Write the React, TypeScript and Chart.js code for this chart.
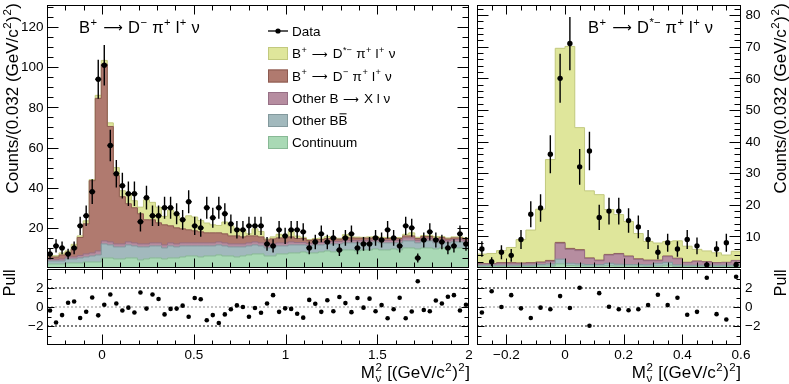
import React, { useEffect, useRef } from "react";
import { Chart, registerables } from "chart.js";
Chart.register(...registerables);

const W = 789;
const H = 384;
const FONT = '"Liberation Sans", Arial, Helvetica, sans-serif';
const SYMFONT = '"DejaVu Sans", sans-serif';

// ---------------- Left panel: B+ -> D- pi+ l+ nu (70 bins, -0.3 .. 2.0) ----------------
const leftRange = [-0.3, 2.0];
const leftData = [
  7, 11, 10, 7, 10, 21, 26, 38, 94, 101,
  61, 47, 41, 37, 37, 23, 35, 26, 26, 30,
  30, 27, 24, 33, 21, 20, 30, 25, 30, 27,
  22, 19, 19, 21, 21, 21, 12, 11, 19, 16,
  19, 19, 18, 10, 13, 17, 13, 15, 9, 15,
  17, 10, 12, 12, 15, 14, 19, 15, 11, 21,
  20, 5, 14, 18, 14, 13, 10, 11, 17, 12,
];
const leftContinuum = [
  2, 2, 2, 2.5, 2.5, 2.5, 3, 3, 3, 5,
  5, 4.5, 4.5, 5, 5, 4, 4.5, 5, 5, 4.5,
  5, 5, 5.5, 6, 6, 5.5, 6, 6, 6.5, 6,
  6, 5.5, 6, 6.5, 7, 7, 6, 6, 7, 7,
  7.5, 7.5, 8, 7.5, 7.5, 8, 8.5, 8, 8.5, 9,
  9, 8.5, 9, 9, 9.5, 9, 9, 9.5, 9, 10,
  10, 9.5, 10, 10, 9.5, 10, 9.5, 10, 10, 9.5,
];
const leftOtherBB = [
  1.5, 1.5, 1.5, 2, 2, 2.5, 2.5, 3, 3.5, 7,
  6.5, 6, 6, 6.5, 6, 6.5, 6, 6, 6, 5.5,
  6, 5.5, 5.5, 5, 5, 5.5, 5, 5, 5, 5,
  4.5, 5, 4.5, 4.5, 4.5, 4, 4, 4.5, 4, 4,
  4, 4, 3.5, 3.5, 4, 3.5, 3.5, 4, 3.5, 3.5,
  3.5, 4, 3.5, 3.5, 3.5, 3.5, 3.5, 3, 3.5, 3.5,
  3.5, 3, 3.5, 3.5, 3, 3, 3, 3, 3, 3,
];
const leftOtherB = [
  0.8, 0.8, 1, 1, 1, 1.2, 1.5, 1.5, 2, 1.5,
  1.5, 1.5, 1.5, 1.5, 1.5, 1.5, 1.5, 1.5, 1.5, 1.5,
  1.5, 1.5, 1.5, 1.5, 1.5, 1.5, 1.5, 1.5, 1.5, 1.5,
  1.5, 1.5, 1.5, 1.5, 1.5, 1.5, 1.5, 1.5, 1.5, 1.5,
  1.5, 1.2, 1.2, 1.2, 1.2, 1.2, 1.2, 1.2, 1.2, 1.2,
  1.2, 1.2, 1.2, 1.2, 1.2, 1.2, 1.2, 1.2, 1.2, 1.5,
  1.5, 1.2, 1.2, 1.2, 1.2, 1.2, 1.2, 1.2, 1.2, 1.2,
];
const leftDPi = [
  1.2, 1.2, 2, 2, 4, 9, 15, 36, 76, 88,
  57.5, 34, 23.5, 19, 17.5, 15, 12, 11.5, 10, 10,
  8.5, 8, 7, 6.5, 6, 5.5, 5, 5, 4.5, 4.5,
  4, 4, 3.5, 3.5, 3, 3, 2.5, 2.5, 2.5, 2.5,
  2.5, 2, 2, 1.5, 1.5, 1.5, 1.5, 1.5, 1.2, 1.5,
  1.3, 1.2, 1.2, 1.2, 1, 1, 1, 1, 1, 1,
  1, 1, 1, 1, 1, 1, 0.8, 0.8, 0.8, 0.8,
];
const leftDStar = [
  0.6, 0.6, 1, 1, 2.3, 0.8, 1.5, 0.5, 1.5, 1.9,
  1.8, 4, 3, 4.6, 3.5, 3.3, 10, 8.7, 7.8, 4.2,
  7.9, 6.1, 5.2, 7, 6.9, 5.6, 4.9, 4, 3.7, 5.9,
  5, 3.7, 3.5, 1, 3.5, 2.7, 0.5, 1, 1.8, 1,
  2.6, 1.2, 0.6, 0.5, 0.5, 0.7, 0.9, 0.5, 0.4, 1.4,
  0.5, 0.5, 0.4, 0.6, 0.5, 0.6, 0.5, 0.5, 0.5, 0.8,
  1.5, 0.6, 0.5, 0.6, 1, 0.5, 0.5, 0.5, 0.5, 0.5,
];
const leftPull = [
  -0.37, -1.63, -0.85, 0.44, 0.58, -1.15, -0.5, 1.0, -0.88, 0.24,
  1.32, 0.37, -0.37, -0.07, -0.58, 1.53, -0.17, 1.32, 0.85, -0.78,
  -0.2, -0.17, 0.14, -1.02, 0.95, 0.81, -1.39, -0.85, -1.69, -0.78,
  -0.24, 0.17, 0, -1.02, -0.1, -0.61, 0.37, 1.25, -0.51, -0.14,
  -0.2, -0.71, -1.12, 0.75, 0.34, -0.51, 0.71, -0.44, 1.05, 0.41,
  -0.54, 0.95, -0.07, 0.88, -0.44, 0.2, -1.19, -0.24, 0.98, -1.19,
  -0.47, 2.71, -0.31, -0.44, 0.68, 0.37, 1.08, 1.25, -0.37, 0.24,
];

// ---------------- Right panel: B+ -> D*- pi+ l+ nu (27 bins, -0.3 .. 0.6) ----------------
const rightRange = [-0.3, 0.6];
const rightData = [6, 2, 5, 4, 9, 17, 19, 36, 60, 71, 32, 37, 16, 18, 18, 15, 13, 9, 5, 8, 6, 9, 7, 1, 6, 8, 1];
const rightContinuum = [0.5, 0.5, 0.5, 0.5, 0.5, 0.5, 0.6, 0.6, 1.3, 0.8, 0.7, 0.6, 0.6, 0.7, 0.6, 0.6, 0.6, 0.5, 0.6, 0.9, 0.5, 0.5, 0.5, 0.5, 0.5, 0.5, 0.5];
const rightOtherBB = [0.4, 0.4, 0.4, 0.4, 0.4, 0.4, 0.5, 0.7, 1.5, 0.7, 0.6, 0.5, 0.5, 0.8, 0.6, 0.5, 0.5, 0.5, 0.9, 0.9, 0.5, 0.4, 0.4, 0.4, 0.4, 0.4, 0.4];
const rightOtherB = [0.4, 0.4, 0.6, 0.6, 0.5, 0.6, 0.6, 0.8, 5.0, 4.4, 4.2, 1.9, 1.2, 2.6, 3.2, 2.5, 1.6, 1.3, 0.8, 1.8, 1.9, 0.8, 1.2, 1.0, 0.7, 0.8, 1.4];
const rightDPi = [0.1, 0.1, 0.2, 0.2, 0.2, 0.2, 0.2, 0.3, 0.3, 0.3, 0.3, 0.2, 0.2, 0.2, 0.2, 0.2, 0.2, 0.2, 0.2, 0.2, 0.2, 0.1, 0.1, 0.1, 0.1, 0.1, 0.1];
const rightDStar = [3.0, 3.2, 3.8, 4.8, 7.4, 10.3, 16.7, 31.9, 61.4, 63.9, 38.6, 21.2, 20.7, 14.2, 12.3, 10.9, 8.0, 5.9, 5.4, 4.6, 5.5, 5.1, 3.7, 3.4, 3.1, 2.3, 2.9];
const rightPull = [-0.58, 1.66, 0, 1.25, -0.14, -1.15, -0.07, -0.24, 1.15, -0.1, 2.03, -1.97, 1.46, 0.03, -0.24, -0.34, -0.24, 0.2, 1.29, 0.2, 0.98, -0.81, -0.51, 3.08, -0.75, -1.32, 3.19];

// ---------------- Axis ticks / labels ----------------
const leftYTicks = [20, 40, 60, 80, 100, 120];
const rightYTicks = [10, 20, 30, 40, 50, 60, 70, 80];
const pullYTicks = [-2, 0, 2];
const pullYTickLabels = ["\u22122", "0", "2"];
const leftXTicks = [0, 0.5, 1, 1.5, 2];
const leftXTickLabels = ["0", "0.5", "1", "1.5", "2"];
const rightXTicks = [-0.2, 0, 0.2, 0.4, 0.6];
const rightXTickLabels = ["\u22120.2", "0", "0.2", "0.4", "0.6"];

const legendLabels = [
  "Data",
  "B^{+} #{\u27f6} D^{*\u2212} \u03c0^{+} l^{+} \u03bd",
  "B^{+} #{\u27f6} D^{\u2212} \u03c0^{+} l^{+} \u03bd",
  "Other B #{\u27f6} X l \u03bd",
  "Other B#bar{B}",
  "Continuum",
];

// styles (bottom -> top of stack)
const compFill = ["#a9d9b5", "#a2b9bd", "#b68da0", "#b07a6f", "#dfe69b"];
const compLine = ["#88b995", "#83999d", "#977086", "#8c5a50", "#c2c97e"];

// ---------------- rich text ----------------
type Seg = { t: string; k: "n" | "sup" | "sub" | "bar" | "sym" };
function parseMarkup(s: string): Seg[] {
  const out: Seg[] = [];
  let buf = "";
  let i = 0;
  const flush = () => {
    if (buf) {
      out.push({ t: buf, k: "n" });
      buf = "";
    }
  };
  while (i < s.length) {
    const c = s[i];
    if ((c === "^" || c === "_") && s[i + 1] === "{") {
      flush();
      const end = s.indexOf("}", i);
      out.push({ t: s.slice(i + 2, end), k: c === "^" ? "sup" : "sub" });
      i = end + 1;
    } else if (s.startsWith("#bar{", i)) {
      flush();
      const end = s.indexOf("}", i);
      out.push({ t: s.slice(i + 5, end), k: "bar" });
      i = end + 1;
    } else if (s.startsWith("#{", i)) {
      flush();
      const end = s.indexOf("}", i);
      out.push({ t: s.slice(i + 2, end), k: "sym" });
      i = end + 1;
    } else {
      buf += c;
      i++;
    }
  }
  flush();
  return out;
}

function drawRich(
  ctx: CanvasRenderingContext2D,
  markup: string,
  x: number,
  y: number,
  size: number,
  align: "left" | "right" | "center" = "left",
  rotate = false,
  color = "#000"
) {
  const segs = parseMarkup(markup);
  const small = size * 0.68;
  const items: { t: string; dx: number; dy: number; font: string; bar: boolean; w: number }[] = [];
  let cx = 0;
  for (let i = 0; i < segs.length; i++) {
    const s = segs[i];
    if (s.k === "n" || s.k === "bar") {
      const font = `${size}px ${FONT}`;
      ctx.font = font;
      const w = ctx.measureText(s.t).width;
      items.push({ t: s.t, dx: cx, dy: 0, font, bar: s.k === "bar", w });
      cx += w;
    } else if (s.k === "sym") {
      const font = `${size * 0.82}px ${SYMFONT}`;
      ctx.font = font;
      const w = ctx.measureText(s.t).width;
      items.push({ t: s.t, dx: cx + 1, dy: -size * 0.04, font, bar: false, w });
      cx += w + 2;
    } else {
      const font = `${small}px ${FONT}`;
      ctx.font = font;
      const w = ctx.measureText(s.t).width;
      const dy = s.k === "sup" ? -size * 0.4 : size * 0.22;
      items.push({ t: s.t, dx: cx + 0.5, dy, font, bar: false, w });
      const nx = segs[i + 1];
      if (nx && (nx.k === "sup" || nx.k === "sub") && nx.k !== s.k) {
        const w2 = ctx.measureText(nx.t).width;
        const dy2 = nx.k === "sup" ? -size * 0.4 : size * 0.22;
        items.push({ t: nx.t, dx: cx + 0.5, dy: dy2, font, bar: false, w: w2 });
        cx += Math.max(w, w2) + 1;
        i++;
      } else {
        cx += w + 1;
      }
    }
  }
  const total = cx;
  const start = align === "right" ? -total : align === "center" ? -total / 2 : 0;
  ctx.save();
  ctx.translate(x, y);
  if (rotate) ctx.rotate(-Math.PI / 2);
  ctx.fillStyle = color;
  ctx.strokeStyle = color;
  ctx.textBaseline = "alphabetic";
  ctx.textAlign = "left";
  for (const it of items) {
    ctx.font = it.font;
    ctx.fillText(it.t, start + it.dx, it.dy);
    if (it.bar) {
      ctx.lineWidth = 1;
      ctx.beginPath();
      ctx.moveTo(start + it.dx + 1, -size * 0.85);
      ctx.lineTo(start + it.dx + it.w - 1, -size * 0.85);
      ctx.stroke();
    }
  }
  ctx.restore();
}

// ---------------- helpers ----------------
function edgesFor(range: number[], n: number) {
  return Array.from({ length: n + 1 }, (_, i) => range[0] + ((range[1] - range[0]) * i) / n);
}
function stepRange(min: number, max: number, step: number) {
  const out: number[] = [];
  const k0 = Math.ceil(min / step - 1e-9);
  const k1 = Math.floor(max / step + 1e-9);
  for (let k = k0; k <= k1; k++) out.push(+(k * step).toFixed(6));
  return out;
}
function stepPoints(edges: number[], vals: number[]) {
  const pts = vals.map((v, i) => ({ x: edges[i], y: v }));
  pts.push({ x: edges[edges.length - 1], y: vals[vals.length - 1] });
  return pts;
}
function errorBarPoints(edges: number[], data: number[], horiz: boolean) {
  const pts: { x: number; y: number | null }[] = [];
  data.forEach((v, i) => {
    const xc = (edges[i] + edges[i + 1]) / 2;
    const e = Math.sqrt(v);
    pts.push({ x: xc, y: v - e }, { x: xc, y: v + e }, { x: xc, y: null });
    if (horiz) pts.push({ x: edges[i], y: v }, { x: edges[i + 1], y: v }, { x: xc, y: null });
  });
  return pts;
}

// ---------------- frame / ticks / texts plugin ----------------
type TextItem = { m: string; x: number; y: number; size: number; align?: "left" | "right" | "center"; rot?: boolean };
type FrameOpts = {
  xMajor: number[];
  xMinor: number[];
  yMajor: number[];
  yMinor: number[];
  xLen: number[];
  yLen: number[];
  yLabels?: { values: number[]; texts: string[]; side: "left" | "right"; x: number };
  xLabels?: { values: number[]; texts: string[]; y: number };
  texts?: TextItem[];
  legend?: boolean;
};

const rootFrame = {
  id: "rootFrame",
  afterDraw(chart: any, _args: any, opts: FrameOpts) {
    const { ctx, chartArea: a, scales } = chart;
    const xs = scales.x;
    const ys = scales.y;
    ctx.save();
    ctx.strokeStyle = "#000";
    ctx.lineWidth = 1;
    const L = Math.round(a.left) + 0.5;
    const R = Math.round(a.right) - 0.5;
    const T = Math.round(a.top) + 0.5;
    const B = Math.round(a.bottom) - 0.5;
    ctx.beginPath();
    const xt = (vals: number[], len: number) => {
      for (const v of vals) {
        const px = Math.round(xs.getPixelForValue(v)) + 0.5;
        if (px <= L + 1 || px >= R - 1) continue;
        ctx.moveTo(px, T);
        ctx.lineTo(px, T + len);
        ctx.moveTo(px, B);
        ctx.lineTo(px, B - len);
      }
    };
    const yt = (vals: number[], len: number) => {
      for (const v of vals) {
        const py = Math.round(ys.getPixelForValue(v)) + 0.5;
        if (py <= T + 1 || py >= B - 1) continue;
        ctx.moveTo(L, py);
        ctx.lineTo(L + len, py);
        ctx.moveTo(R, py);
        ctx.lineTo(R - len, py);
      }
    };
    xt(opts.xMinor, opts.xLen[1]);
    xt(opts.xMajor, opts.xLen[0]);
    yt(opts.yMinor, opts.yLen[1]);
    yt(opts.yMajor, opts.yLen[0]);
    ctx.stroke();
    ctx.strokeRect(L, T, R - L, B - T);

    ctx.fillStyle = "#000";
    ctx.font = `13.5px ${FONT}`;
    if (opts.yLabels) {
      const yl = opts.yLabels;
      ctx.textAlign = yl.side === "left" ? "right" : "left";
      ctx.textBaseline = "middle";
      yl.values.forEach((v, i) => ctx.fillText(yl.texts[i], yl.x, ys.getPixelForValue(v) + 0.5));
    }
    if (opts.xLabels) {
      const xl = opts.xLabels;
      ctx.textAlign = "center";
      ctx.textBaseline = "top";
      xl.values.forEach((v, i) => ctx.fillText(xl.texts[i], xs.getPixelForValue(v), xl.y));
    }
    for (const t of opts.texts || []) {
      drawRich(ctx, t.m, t.x, t.y, t.size, t.align || "left", !!t.rot);
    }
    if (opts.legend) {
      const rows = [31, 53.5, 76, 98.5, 120.5, 142.5];
      const sx = 268;
      const sw = 20;
      const sh = 13;
      ctx.strokeStyle = "#000";
      ctx.fillStyle = "#000";
      ctx.lineWidth = 1.3;
      ctx.beginPath();
      ctx.moveTo(sx, rows[0]);
      ctx.lineTo(sx + sw, rows[0]);
      ctx.stroke();
      ctx.beginPath();
      ctx.arc(sx + sw / 2, rows[0], 2.6, 0, Math.PI * 2);
      ctx.fill();
      const order = [4, 3, 2, 1, 0];
      for (let r = 1; r < rows.length; r++) {
        const c = order[r - 1];
        ctx.fillStyle = compFill[c];
        ctx.fillRect(sx, rows[r] - sh / 2, sw, sh);
        ctx.strokeStyle = compLine[c];
        ctx.lineWidth = 1;
        ctx.strokeRect(sx + 0.5, rows[r] - sh / 2 + 0.5, sw - 1, sh - 1);
      }
      for (let r = 0; r < rows.length; r++) {
        drawRich(ctx, legendLabels[r], 292, rows[r] + 4.8, 13.5, "left");
      }
    }
    ctx.restore();
  },
};

// ---------------- chart configs ----------------
function mainConfig(
  range: number[],
  yMax: number,
  data: number[],
  comps: number[][],
  pad: { left: number; right: number },
  horizErr: boolean,
  frame: FrameOpts
) {
  const n = data.length;
  const edges = edgesFor(range, n);
  const cum: number[][] = [];
  comps.forEach((c, k) => {
    cum.push(c.map((v, i) => (k === 0 ? v : cum[k - 1][i] + v)));
  });
  const histSets = cum.map((vals, k) => ({
    type: "line",
    data: stepPoints(edges, vals),
    stepped: "before",
    fill: "origin",
    backgroundColor: compFill[k],
    borderColor: compLine[k],
    borderWidth: 1,
    pointRadius: 0,
    order: 0,
  }));
  const centers = data.map((v, i) => ({ x: (edges[i] + edges[i + 1]) / 2, y: v }));
  return {
    type: "line",
    data: {
      datasets: [
        ...histSets,
        {
          type: "line",
          data: errorBarPoints(edges, data, horizErr),
          borderColor: "#000",
          borderWidth: 1.4,
          pointRadius: 0,
          spanGaps: false,
          fill: false,
          order: -1,
        },
        {
          type: "line",
          data: centers,
          showLine: false,
          pointRadius: 2.7,
          pointBorderWidth: 0,
          pointBackgroundColor: "#000",
          fill: false,
          order: -2,
        },
      ],
    },
    options: {
      responsive: false,
      animation: false,
      devicePixelRatio: 1,
      events: [],
      layout: { padding: { left: pad.left, right: pad.right, top: 5, bottom: H - 268 } },
      plugins: { legend: { display: false }, tooltip: { enabled: false }, rootFrame: frame },
      scales: {
        x: { type: "linear", min: range[0], max: range[1], display: false },
        y: { type: "linear", min: 0, max: yMax, display: false },
      },
    },
    plugins: [rootFrame],
  };
}

function pullConfig(range: number[], pulls: number[], pad: { left: number; right: number }, frame: FrameOpts) {
  const n = pulls.length;
  const edges = edgesFor(range, n);
  const pts = pulls.map((v, i) => ({ x: (edges[i] + edges[i + 1]) / 2, y: v }));
  const hline = (y: number, color: string) => ({
    type: "line",
    data: [
      { x: range[0], y },
      { x: range[1], y },
    ],
    borderColor: color,
    borderWidth: 1,
    borderDash: [2, 2],
    pointRadius: 0,
    fill: false,
    order: 1,
  });
  return {
    type: "line",
    data: {
      datasets: [
        hline(2, "#000"),
        hline(-2, "#000"),
        hline(0, "#8a8a8a"),
        {
          type: "line",
          data: pts,
          showLine: false,
          pointRadius: 2.3,
          pointBorderWidth: 0,
          pointBackgroundColor: "#000",
          fill: false,
          order: -1,
        },
      ],
    },
    options: {
      responsive: false,
      animation: false,
      devicePixelRatio: 1,
      events: [],
      layout: { padding: { left: pad.left, right: pad.right, top: 269, bottom: H - 345 } },
      plugins: { legend: { display: false }, tooltip: { enabled: false }, rootFrame: frame },
      scales: {
        x: { type: "linear", min: range[0], max: range[1], display: false },
        y: { type: "linear", min: -4, max: 4, display: false },
      },
    },
    plugins: [rootFrame],
  };
}

const countsTitle = "Counts/(0.032 (GeV/c^{2})^{2})";
const massTitle = "M_{\u03bd}^{2} [(GeV/c^{2})^{2}]";

function buildConfigs() {
  const leftPad = { left: 47, right: W - 469 };
  const rightPad = { left: 477, right: W - 741 };
  const leftMain = mainConfig(
    leftRange,
    131,
    leftData,
    [leftContinuum, leftOtherBB, leftOtherB, leftDPi, leftDStar],
    leftPad,
    true,
    {
      xMajor: stepRange(leftRange[0], leftRange[1], 0.5),
      xMinor: stepRange(leftRange[0], leftRange[1], 0.1),
      yMajor: stepRange(0, 131, 20),
      yMinor: stepRange(0, 131, 5),
      xLen: [9, 5],
      yLen: [11, 6],
      yLabels: { values: leftYTicks, texts: leftYTicks.map(String), side: "left", x: 43.5 },
      texts: [
        { m: "B^{+} #{\u27f6} D^{\u2212} \u03c0^{+} l^{+} \u03bd", x: 79, y: 33, size: 16.5 },
        { m: countsTitle, x: 18, y: 3, size: 17, align: "right", rot: true },
      ],
      legend: true,
    }
  );
  const leftPullCfg = pullConfig(leftRange, leftPull, leftPad, {
    xMajor: stepRange(leftRange[0], leftRange[1], 0.5),
    xMinor: stepRange(leftRange[0], leftRange[1], 0.1),
    yMajor: stepRange(-4, 4, 2),
    yMinor: stepRange(-4, 4, 1),
    xLen: [10, 4],
    yLen: [7, 4],
    yLabels: { values: pullYTicks, texts: pullYTickLabels, side: "left", x: 43.5 },
    xLabels: { values: leftXTicks, texts: leftXTickLabels, y: 349 },
    texts: [
      { m: "Pull", x: 15, y: 269.5, size: 16, align: "right", rot: true },
      { m: massTitle, x: 470, y: 378, size: 17, align: "right" },
    ],
  });
  const rightMain = mainConfig(
    rightRange,
    83.2,
    rightData,
    [rightContinuum, rightOtherBB, rightOtherB, rightDPi, rightDStar],
    rightPad,
    false,
    {
      xMajor: stepRange(rightRange[0], rightRange[1], 0.2),
      xMinor: stepRange(rightRange[0], rightRange[1], 0.05),
      yMajor: stepRange(0, 83.2, 10),
      yMinor: stepRange(0, 83.2, 2),
      xLen: [9, 5],
      yLen: [11, 6],
      yLabels: { values: rightYTicks, texts: rightYTicks.map(String), side: "right", x: 745.5 },
      texts: [
        { m: "B^{+} #{\u27f6} D^{*\u2212} \u03c0^{+} l^{+} \u03bd", x: 588, y: 33, size: 16.5 },
        { m: countsTitle, x: 786, y: 3, size: 17, align: "right", rot: true },
      ],
    }
  );
  const rightPullCfg = pullConfig(rightRange, rightPull, rightPad, {
    xMajor: stepRange(rightRange[0], rightRange[1], 0.2),
    xMinor: stepRange(rightRange[0], rightRange[1], 0.05),
    yMajor: stepRange(-4, 4, 2),
    yMinor: stepRange(-4, 4, 1),
    xLen: [10, 4],
    yLen: [7, 4],
    yLabels: { values: pullYTicks, texts: pullYTickLabels, side: "right", x: 745 },
    xLabels: { values: rightXTicks, texts: rightXTickLabels, y: 349 },
    texts: [
      { m: "Pull", x: 786, y: 269.5, size: 16, align: "right", rot: true },
      { m: massTitle, x: 741, y: 378, size: 17, align: "right" },
    ],
  });
  return [leftMain, leftPullCfg, rightMain, rightPullCfg];
}

export default function App() {
  const r0 = useRef<HTMLCanvasElement>(null);
  const r1 = useRef<HTMLCanvasElement>(null);
  const r2 = useRef<HTMLCanvasElement>(null);
  const r3 = useRef<HTMLCanvasElement>(null);
  const refs = [r0, r1, r2, r3];
  useEffect(() => {
    const cfgs = buildConfigs();
    const charts = refs.map((r, i) => new Chart(r.current as HTMLCanvasElement, cfgs[i] as any));
    return () => charts.forEach((c) => c.destroy());
  }, []);
  return (
    <div style={{ position: "fixed", left: 0, top: 0, width: W, height: H, background: "#fff" }}>
      {refs.map((r, i) => (
        <canvas
          key={i}
          ref={r}
          width={W}
          height={H}
          style={{ position: "absolute", left: 0, top: 0, width: W, height: H }}
        />
      ))}
    </div>
  );
}
